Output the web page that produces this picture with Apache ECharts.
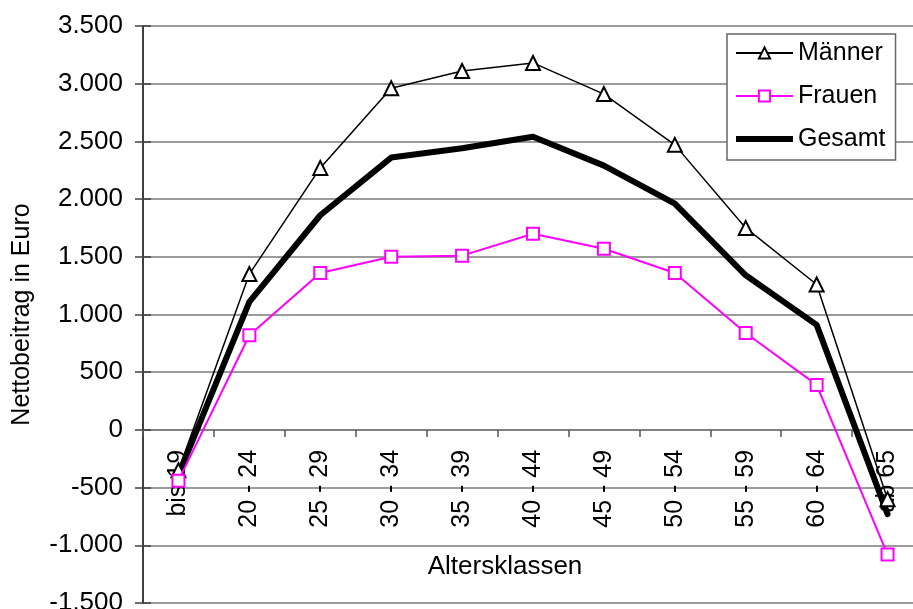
<!DOCTYPE html>
<html>
<head>
<meta charset="utf-8">
<script src="https://cdn.jsdelivr.net/npm/echarts@6/dist/echarts.min.js"></script>
<style>
  html, body { margin: 0; padding: 0; background: #fff; }
  #chart { width: 913px; height: 609px; }
</style>
</head>
<body>
<div id="chart"></div>
<script>
// Age classes on the category axis
const categories = ['bis 19', '20 - 24', '25 - 29', '30 - 34', '35 - 39', '40 - 44',
                    '45 - 49', '50 - 54', '55 - 59', '60 - 64', 'ab 65'];

// Net contribution per age class in Euro
const maenner = [-350, 1350, 2270, 2960, 3110, 3180, 2910, 2470, 1750, 1260, -600];
const frauen  = [-440, 820, 1360, 1500, 1510, 1700, 1570, 1360, 840, 390, -1080];
const gesamt  = [-390, 1110, 1860, 2360, 2440, 2540, 2290, 1960, 1340, 910, -730];

// Value axis ticks and their German-formatted labels
const yTicks      = [-1500, -1000, -500, 0, 500, 1000, 1500, 2000, 2500, 3000, 3500];
const yTickLabels = ['-1.500', '-1.000', '-500', '0', '500', '1.000', '1.500', '2.000', '2.500', '3.000', '3.500'];

const FONT = '"Liberation Sans", Arial, sans-serif';
const GRID_TOP = 26, GRID_H = 577;
const Y_MIN = yTicks[0], Y_MAX = yTicks[yTicks.length - 1];
// distance from the plot bottom up to the zero line, where the category axis sits
const zeroOffset = GRID_H * (0 - Y_MIN) / (Y_MAX - Y_MIN);

const chart = echarts.init(document.getElementById('chart'), null, { renderer: 'canvas' });

const yBase = { type: 'value', min: Y_MIN, max: Y_MAX, interval: 500 };

chart.setOption({
  backgroundColor: '#ffffff',
  animation: false,
  textStyle: { fontFamily: FONT },
  grid: { left: 143, top: GRID_TOP, width: 780, height: GRID_H, containLabel: false, outerBoundsMode: 'none' },
  legend: {
    orient: 'vertical',
    left: 727,
    top: 34,
    padding: [5, 10, 7, 8],
    itemWidth: 57,
    itemHeight: 14,
    itemGap: 15,
    backgroundColor: '#ffffff',
    borderColor: '#666666',
    borderWidth: 1.5,
    borderRadius: 0,
    textStyle: { fontFamily: FONT, fontSize: 25, lineHeight: 28, color: '#000' },
    data: [
      { name: 'Männer' },
      { name: 'Frauen' },
      { name: 'Gesamt', icon: 'path://M0,0L57,0L57,6L0,6Z' }
    ]
  },
  graphic: [{
    type: 'text',
    x: 505,
    y: 567,
    style: {
      text: 'Altersklassen',
      fontFamily: FONT,
      fontSize: 26,
      fill: '#000',
      align: 'center',
      verticalAlign: 'middle'
    }
  }],
  xAxis: {
    type: 'category',
    data: categories,
    boundaryGap: true,
    position: 'bottom',
    offset: -zeroOffset,
    axisLine: { show: true, onZero: false, lineStyle: { color: '#7a7a7a', width: 1.5 } },
    axisTick: { show: true, inside: false, length: 7, lineStyle: { color: '#555', width: 1.5 } },
    axisLabel: {
      interval: 0,
      rotate: 90,
      margin: 20,
      fontFamily: FONT,
      fontSize: 25,
      color: '#000'
    },
    splitLine: { show: false }
  },
  yAxis: [
    Object.assign({}, yBase, {
      name: 'Nettobeitrag in Euro',
      nameLocation: 'middle',
      nameGap: 108,
      nameTextStyle: { fontFamily: FONT, fontSize: 25, color: '#000' },
      axisLine: { show: true, lineStyle: { color: '#404040', width: 2 } },
      axisTick: { show: true, inside: false, length: 8, lineStyle: { color: '#404040', width: 1.5 } },
      axisLabel: {
        margin: 20,
        fontFamily: FONT,
        fontSize: 26,
        color: '#000',
        formatter: function (v) {
          const i = yTicks.indexOf(v);
          return i >= 0 ? yTickLabels[i] : '';
        }
      },
      splitLine: { show: true, lineStyle: { color: '#7a7a7a', width: 1.5 } }
    }),
    // inner half of the crossing tick marks on the value axis
    Object.assign({}, yBase, {
      position: 'left',
      axisLine: { show: false },
      axisTick: { show: true, inside: true, length: 8, lineStyle: { color: '#404040', width: 1.5 } },
      axisLabel: { show: false },
      splitLine: { show: false }
    })
  ],
  series: [
    {
      name: 'Männer',
      type: 'line',
      data: maenner,
      symbol: 'triangle',
      symbolSize: 14,
      showAllSymbol: true,
      lineStyle: { color: '#000', width: 1.5 },
      itemStyle: { color: '#fff', borderColor: '#000', borderWidth: 2 },
      z: 3
    },
    {
      name: 'Frauen',
      type: 'line',
      data: frauen,
      symbol: 'rect',
      symbolSize: 12,
      showAllSymbol: true,
      lineStyle: { color: '#ff00ff', width: 2 },
      itemStyle: { color: '#fff', borderColor: '#ff00ff', borderWidth: 2 },
      z: 4
    },
    {
      name: 'Gesamt',
      type: 'line',
      data: gesamt,
      symbol: 'none',
      lineStyle: { color: '#000', width: 6, cap: 'round', join: 'round' },
      itemStyle: { color: '#000' },
      z: 3
    }
  ]
});
</script>
</body>
</html>
